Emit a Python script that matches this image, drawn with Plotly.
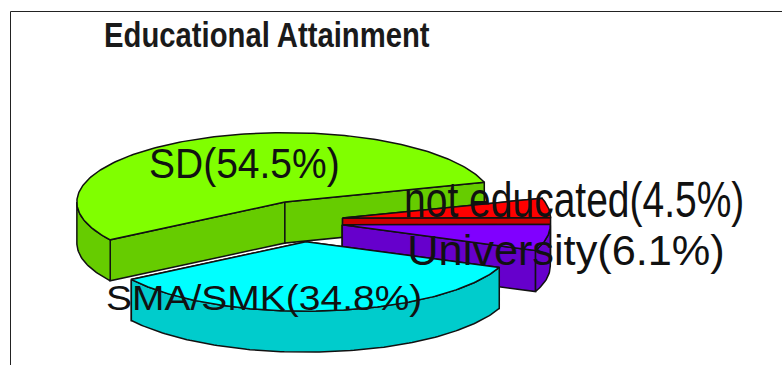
import json

import numpy as np
import plotly.graph_objects as go

categories = ["SD", "SMA/SMK", "University", "not educated"]
shares = [54.5, 34.8, 6.1, 4.5]
top_colors = ["#80FF00", "#00FFFF", "#8000FF", "#FF0000"]
side_colors = ["#66CC00", "#00CCCC", "#6600CC", "#CC0000"]
draw_order = [0, 3, 2, 1]

WIDTH, HEIGHT = 782, 365
PX_X, PX_Y = 208.0, 69.5          # pixels per unit radius on each axis
CX, CY = 302.0, 221.0             # pie centre on the page
DEPTH = 41.0 / PX_Y
EXPLODE_X, EXPLODE_Y = 41.0 / PX_X, 20.8 / PX_Y
START = np.radians(16.5)

fractions = np.array(shares) / sum(shares)
edges = START + 2 * np.pi * np.concatenate([[0], np.cumsum(fractions)])


def arc(a0, a1, ox, oy):
    t = np.linspace(a0, a1, max(2, int(abs(a1 - a0) * 60)))
    return ox + np.cos(t), oy + np.sin(t)


def polygon(fig, xs, ys, color):
    fig.add_trace(go.Scatter(
        x=list(xs) + [xs[0]], y=list(ys) + [ys[0]], mode="lines", fill="toself",
        fillcolor=color, line=dict(color="#111111", width=1.5),
        hoverinfo="skip", showlegend=False,
    ))


def wedge(fig, i):
    a0, a1 = edges[i], edges[i + 1]
    mid = (a0 + a1) / 2
    ox, oy = EXPLODE_X * np.cos(mid), EXPLODE_Y * np.sin(mid)
    side = side_colors[i]

    # cut faces running from the apex out to each straight edge
    for a in (a1, a0):
        ex, ey = ox + np.cos(a), oy + np.sin(a)
        polygon(fig, [ox, ex, ex, ox], [oy, ey, ey - DEPTH, oy - DEPTH], side)

    # outer wall, only where the rim faces the viewer
    for k in (0, 1):
        lo = max(a0, np.pi + 2 * np.pi * k)
        hi = min(a1, 2 * np.pi + 2 * np.pi * k)
        if hi > lo:
            x, y = arc(lo, hi, ox, oy)
            polygon(fig, np.r_[x, x[::-1]], np.r_[y, y[::-1] - DEPTH], side)

    # top surface
    x, y = arc(a0, a1, ox, oy)
    polygon(fig, np.r_[ox, x], np.r_[oy, y], top_colors[i])


fig = go.Figure()
for i in draw_order:
    wedge(fig, i)

# label centre on the page and the stretch applied to its text
label_styles = {
    "SD": (244.5, 164, 1.0, 1.07),
    "SMA/SMK": (264, 298, 1.0, 0.88),
    "University": (566, 251, 1.11, 1.1),
    "not educated": (574, 199.5, 1.0, 1.3),
}
annotations = []
stretches = []
for c, s in zip(categories, shares):
    px, py, sx, sy = label_styles[c]
    annotations.append(dict(
        text=f"{c}({s}%)", x=px / WIDTH, y=1 - py / HEIGHT,
        xref="paper", yref="paper", xanchor="center", yanchor="middle", showarrow=False,
        font=dict(family="Liberation Sans", size=39, color="#111111"),
    ))
    stretches.append([sx, sy])

annotations.append(dict(
    text="<b>Educational Attainment</b>", x=266.5 / WIDTH, y=1 - 34 / HEIGHT,
    xref="paper", yref="paper", xanchor="center", yanchor="middle", showarrow=False,
    font=dict(family="Liberation Sans", size=35, color="#1a1a1a"),
))
stretches.append([0.836, 1.0])

frame = dict(type="line", xref="paper", yref="paper", line=dict(color="#222222", width=1))
shapes = [
    dict(frame, x0=10.5 / WIDTH, x1=10.5 / WIDTH, y0=0, y1=1 - 11.5 / HEIGHT),
    dict(frame, x0=10.5 / WIDTH, x1=1, y0=1 - 11.5 / HEIGHT, y1=1 - 11.5 / HEIGHT),
]

fig.update_layout(
    width=WIDTH, height=HEIGHT, margin=dict(l=0, r=0, t=0, b=0),
    paper_bgcolor="white", plot_bgcolor="white",
    annotations=annotations, shapes=shapes,
    xaxis=dict(visible=False, range=[-CX / PX_X, (WIDTH - CX) / PX_X]),
    yaxis=dict(visible=False, range=[(CY - HEIGHT) / PX_Y, CY / PX_Y]),
)

# Scale each annotation's text about its own centre once the page has drawn it.
stretch_script = """
var stretches = %s;
document.querySelectorAll('.annotation-text').forEach(function (t, i) {
  var b = t.getBBox(), cx = b.x + b.width / 2, cy = b.y + b.height / 2, s = stretches[i];
  t.setAttribute('transform', 'translate(' + cx + ',' + cy + ') scale(' + s[0] + ',' + s[1] +
                 ') translate(' + (-cx) + ',' + (-cy) + ')');
});
""" % json.dumps(stretches)

fig.write_html("out.html", config=dict(displayModeBar=False), post_script=stretch_script)
